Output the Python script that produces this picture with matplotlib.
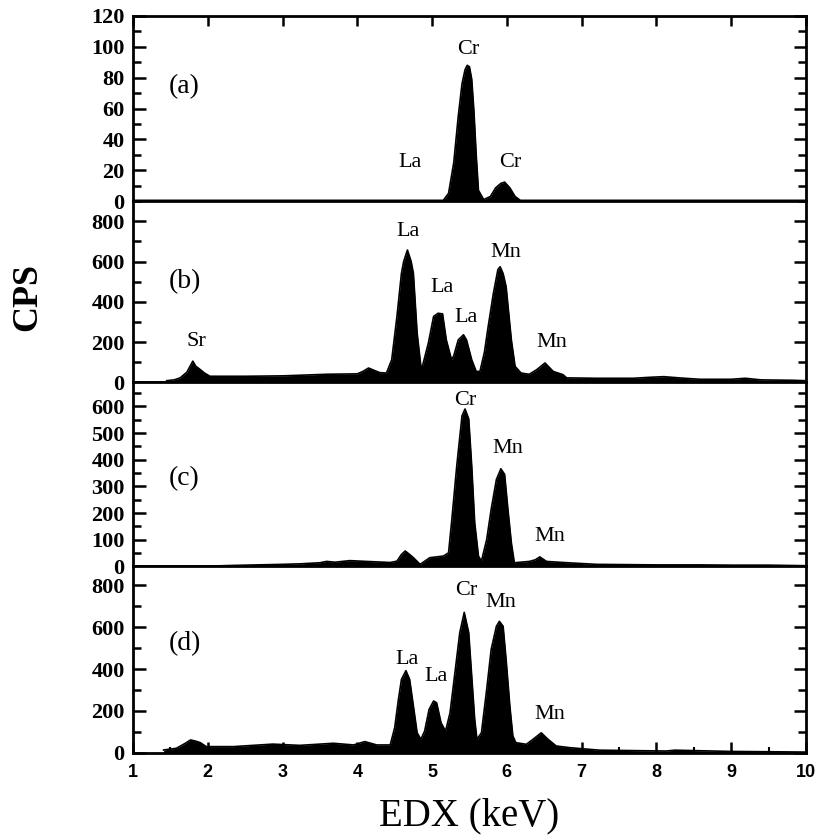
import matplotlib
matplotlib.use("Agg")
import matplotlib.pyplot as plt
from matplotlib.ticker import MultipleLocator

plt.rcParams['font.family'] = ['Liberation Serif', 'DejaVu Serif']

# EDX spectra, energy in keV and counts per second
a_kev = [1.00, 5.15, 5.22, 5.29, 5.35, 5.40, 5.44, 5.47, 5.50, 5.53,
         5.56, 5.59, 5.62, 5.69, 5.78, 5.85, 5.92, 5.97, 6.04, 6.11,
         6.18, 10.0]
a_cps = [0.5, 0.5, 5, 25, 55, 76, 85, 88, 87, 79,
         58, 30, 7, 1, 3, 8.6, 11.5, 12.3, 8.6, 3,
         0.5, 0.5]

b_kev = [1.45, 1.55, 1.63, 1.72, 1.80, 1.84, 1.90, 1.96, 2.03, 2.50,
         3.00, 3.23, 3.60, 4.00, 4.08, 4.15, 4.22, 4.30, 4.39, 4.46,
         4.53, 4.59, 4.62, 4.67, 4.72, 4.75, 4.80, 4.85, 4.87, 4.95,
         5.02, 5.08, 5.14, 5.19, 5.26, 5.29, 5.35, 5.42, 5.46, 5.53,
         5.59, 5.64, 5.70, 5.75, 5.82, 5.88, 5.91, 5.95, 5.99, 6.06,
         6.11, 6.19, 6.30, 6.40, 6.51, 6.62, 6.75, 6.80, 7.20, 7.69,
         7.92, 8.10, 8.30, 8.58, 9.00, 9.19, 9.40, 9.82, 10.0]
b_cps = [8, 12, 22, 50, 105, 80, 63, 45, 30, 30,
         32, 35, 40, 42, 55, 71, 60, 48, 46, 112,
         327, 541, 600, 657, 600, 541, 245, 79, 79, 195,
         327, 343, 340, 211, 112, 132, 211, 236, 211, 112,
         54, 54, 150, 277, 443, 560, 574, 540, 475, 211,
         79, 46, 40, 63, 96, 54, 38, 22, 20, 20,
         25, 28, 22, 15, 15, 20, 12, 10, 8]

c_kev = [1.83, 2.34, 3.00, 3.24, 3.50, 3.59, 3.70, 3.90, 4.12, 4.44,
         4.53, 4.59, 4.64, 4.70, 4.75, 4.84, 4.97, 5.15, 5.22, 5.26,
         5.33, 5.40, 5.44, 5.49, 5.53, 5.57, 5.62, 5.66, 5.73, 5.79,
         5.86, 5.92, 5.97, 6.01, 6.06, 6.10, 6.30, 6.38, 6.44, 6.53,
         6.75, 7.20, 8.00, 8.57, 9.02, 9.50, 10.0]
c_cps = [0, 4, 8, 10, 14, 19, 16, 22, 19, 15,
         20, 45, 58, 45, 33, 8, 33, 39, 51, 164,
         377, 564, 590, 553, 377, 164, 39, 20, 101, 214,
         326, 366, 345, 226, 89, 14, 19, 25, 36, 19,
         15, 8, 6, 6, 5, 5, 3]

d_kev = [1.41, 1.58, 1.70, 1.77, 1.84, 1.90, 1.98, 2.34, 2.87, 3.23,
         3.68, 3.95, 4.10, 4.26, 4.44, 4.50, 4.55, 4.59, 4.65, 4.70,
         4.75, 4.80, 4.85, 4.90, 4.96, 5.02, 5.06, 5.12, 5.18, 5.24,
         5.30, 5.37, 5.43, 5.49, 5.53, 5.57, 5.60, 5.66, 5.73, 5.79,
         5.86, 5.90, 5.95, 5.99, 6.04, 6.08, 6.12, 6.26, 6.35, 6.46,
         6.55, 6.66, 6.84, 7.24, 8.13, 8.25, 9.00, 10.0]
d_cps = [13, 21, 45, 61, 55, 48, 29, 29, 41, 35,
         45, 37, 53, 37, 37, 120, 255, 350, 392, 350,
         223, 95, 64, 103, 207, 247, 239, 143, 103, 191,
         366, 573, 671, 573, 366, 159, 64, 95, 302, 493,
         604, 628, 604, 445, 223, 80, 48, 40, 64, 95,
         64, 32, 24, 12, 8, 12, 6, 3]

# peak labels: (text, keV, cps)
a_peaks = [("Cr", 5.48, 98), ("La", 4.70, 25), ("Cr", 6.04, 25)]
b_peaks = [("Sr", 1.85, 204), ("La", 4.68, 750), ("La", 5.13, 469),
           ("La", 5.46, 320), ("Mn", 5.99, 643), ("Mn", 6.60, 196)]
c_peaks = [("Cr", 5.44, 620), ("Mn", 6.01, 442), ("Mn", 6.57, 114)]
d_peaks = [("La", 4.66, 445), ("La", 5.05, 366), ("Cr", 5.46, 776),
           ("Mn", 5.92, 716), ("Mn", 6.57, 183)]

panels = [
    ("(a)", a_kev, a_cps, a_peaks, 120, 20, 10, 74),
    ("(b)", b_kev, b_cps, b_peaks, 900, 200, 100, 500),
    ("(c)", c_kev, c_cps, c_peaks, 690, 100, 50, 331),
    ("(d)", d_kev, d_cps, d_peaks, 890, 200, 100, 522),
]

fig, axes = plt.subplots(4, 1, sharex=True, figsize=(8.23, 8.38), dpi=100,
                         gridspec_kw=dict(height_ratios=[185, 181, 184, 186], hspace=0))
fig.subplots_adjust(left=0.1616, right=0.9793, top=0.981, bottom=0.1018)

for ax, (tag, kev, cps, peaks, ytop, major, minor, tag_y) in zip(axes, panels):
    ax.fill_between(kev, cps, 0, color='black', linewidth=0)
    ax.plot(kev, cps, color='black', lw=1.2)
    ax.set_ylim(0, ytop)
    ax.yaxis.set_major_locator(MultipleLocator(major))
    ax.yaxis.set_minor_locator(MultipleLocator(minor))
    ax.tick_params(axis='y', which='both', direction='in', left=True, right=True,
                   width=1.8, labelsize=16, pad=6)
    ax.tick_params(axis='y', which='major', length=9)
    ax.tick_params(axis='y', which='minor', length=5.5)
    plt.setp(ax.get_yticklabels(), fontweight='bold')
    for s in ax.spines.values():
        s.set_linewidth(2)
    ax.text(1.69, tag_y, tag, fontsize=20, ha='center', va='center')
    for name, x, y in peaks:
        ax.text(x, y, name, fontsize=16, ha='center', va='center')
    ax.tick_params(axis='x', which='both', bottom=False, top=False, labelbottom=False)

axes[0].set_xlim(1, 10)
axes[0].xaxis.set_major_locator(MultipleLocator(1))
axes[0].xaxis.set_minor_locator(MultipleLocator(0.5))

axes[0].tick_params(axis='x', which='major', top=True, direction='in', length=7, width=1.8)

bottom = axes[3]
bottom.tick_params(axis='x', which='major', bottom=True, labelbottom=True, direction='in',
                   length=8, width=1.8, pad=8, labelsize=13)
bottom.tick_params(axis='x', which='minor', bottom=True, direction='in', length=4, width=1.5)
plt.setp(bottom.get_xticklabels(), family=['Liberation Sans', 'DejaVu Sans'], fontweight='bold')
bottom.set_xlabel('EDX (keV)', fontsize=28, labelpad=12)

fig.text(0.034, 0.646, 'CPS', rotation=90, fontsize=26, fontweight='bold',
         ha='center', va='center')

fig.savefig('out.png', dpi=100)
